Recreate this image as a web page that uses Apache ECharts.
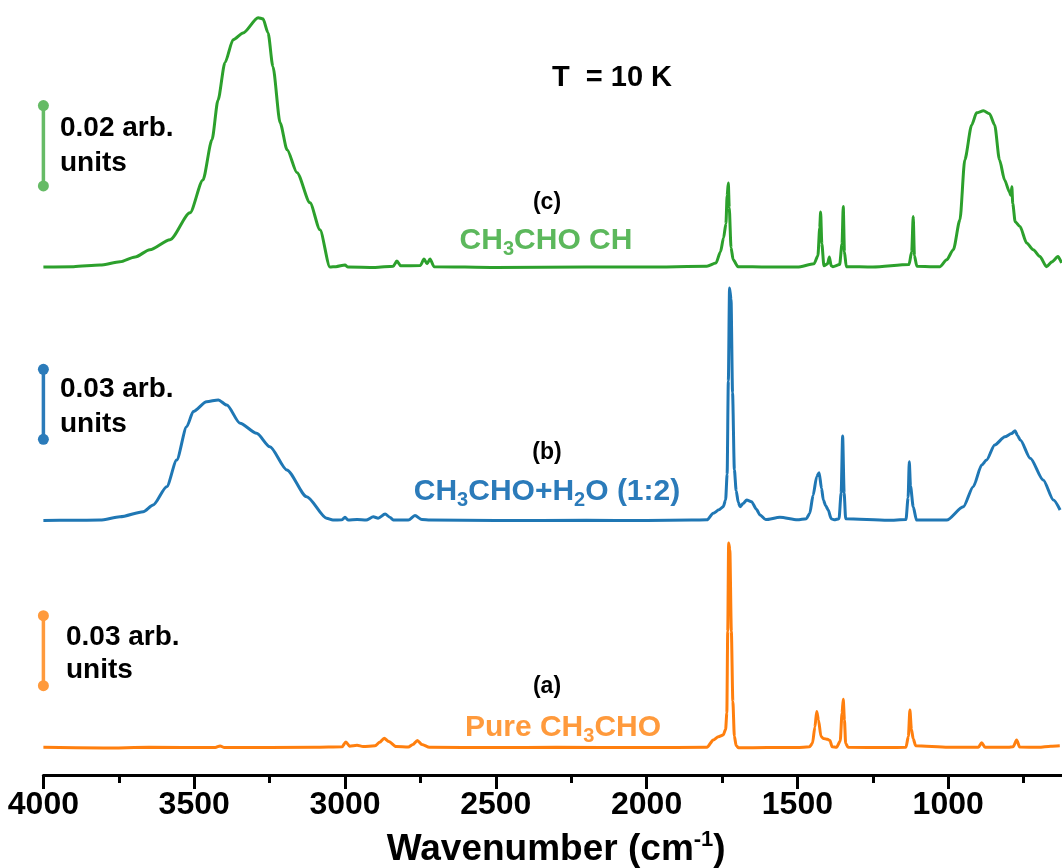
<!DOCTYPE html>
<html>
<head>
<meta charset="utf-8">
<style>
  html, body { margin: 0; padding: 0; background: #fff; }
  #chart-panel { width: 1062px; height: 868px; }
</style>
<script src="https://cdn.jsdelivr.net/npm/echarts@6/dist/echarts.min.js"></script>
</head>
<body>
<div id="chart-panel"></div>
<script>
// wavenumbers (cm-1) and absorbance, baseline = 0
var greenWn = [4000, 3900, 3812, 3746, 3696, 3647, 3580, 3514, 3471, 3441, 3421, 3398, 3371, 3338, 3288, 3272, 3255, 3239, 3215, 3192, 3159, 3116, 3083, 3050, 3030, 3000, 2990, 2900, 2840, 2828, 2815, 2750, 2738, 2728, 2718, 2705, 2500, 2200, 2000, 1800, 1770, 1755, 1745, 1737, 1733, 1729, 1726, 1720, 1713, 1697, 1600, 1500, 1445, 1432, 1426, 1423, 1419, 1412, 1400, 1394, 1388, 1382, 1360, 1352, 1348, 1344, 1338, 1250, 1130, 1121, 1116, 1112, 1104, 1050, 1027, 1005, 983, 961, 945, 922, 906, 883, 863, 846, 830, 813, 797, 792, 789, 786, 778, 762, 740, 718, 696, 674, 656, 636, 624];
var greenAbs = [0.0002, 0.0003, 0.0007, 0.0015, 0.0027, 0.0045, 0.0070, 0.0137, 0.0219, 0.0319, 0.0418, 0.0511, 0.0568, 0.0585, 0.0623, 0.0620, 0.0585, 0.0501, 0.0361, 0.0294, 0.0237, 0.0162, 0.0095, 0.0002, 0.0003, 0.0007, 0.0002, 0.0001, 0.0004, 0.0017, 0.0005, 0.0006, 0.0022, 0.0010, 0.0022, 0.0003, 0.0001, 0.0002, 0.0002, 0.0004, 0.0012, 0.0040, 0.0074, 0.0110, 0.0180, 0.0211, 0.0150, 0.0050, 0.0020, 0.0003, 0.0002, 0.0002, 0.0010, 0.0030, 0.0100, 0.0139, 0.0060, 0.0005, 0.0010, 0.0027, 0.0005, 0.0003, 0.0008, 0.0060, 0.0153, 0.0040, 0.0003, 0.0002, 0.0008, 0.0040, 0.0128, 0.0030, 0.0004, 0.0003, 0.0003, 0.0020, 0.0045, 0.0120, 0.0269, 0.0356, 0.0386, 0.0391, 0.0384, 0.0356, 0.0269, 0.0219, 0.0189, 0.0180, 0.0202, 0.0160, 0.0115, 0.0103, 0.0062, 0.0045, 0.0028, 0.0003, 0.0015, 0.0028, 0.0012];

var blueWn = [4000, 3900, 3812, 3746, 3669, 3636, 3591, 3558, 3525, 3503, 3459, 3420, 3392, 3348, 3293, 3249, 3193, 3127, 3061, 3040, 3010, 3000, 2990, 2960, 2930, 2906, 2890, 2867, 2850, 2840, 2790, 2768, 2745, 2718, 2500, 2200, 2000, 1850, 1800, 1779, 1760, 1746, 1738, 1733, 1729, 1725, 1720, 1715, 1709, 1703, 1696, 1690, 1680, 1668, 1652, 1636, 1624, 1605, 1558, 1500, 1470, 1459, 1448, 1436, 1428, 1420, 1414, 1406, 1398, 1388, 1378, 1362, 1355, 1350, 1345, 1340, 1200, 1140, 1133, 1129, 1125, 1116, 1105, 1005, 950, 917, 889, 873, 846, 812, 790, 778, 770, 761, 728, 685, 651, 629];
var blueAbs = [0.0002, 0.0003, 0.0004, 0.0018, 0.0040, 0.0069, 0.0147, 0.0261, 0.0404, 0.0469, 0.0511, 0.0519, 0.0497, 0.0419, 0.0376, 0.0318, 0.0219, 0.0104, 0.0012, 0.0004, 0.0005, 0.0016, 0.0004, 0.0006, 0.0004, 0.0018, 0.0012, 0.0030, 0.0015, 0.0004, 0.0004, 0.0023, 0.0006, 0.0004, 0.0002, 0.0003, 0.0002, 0.0004, 0.0005, 0.0033, 0.0048, 0.0061, 0.0090, 0.0200, 0.0600, 0.0999, 0.0950, 0.0550, 0.0220, 0.0130, 0.0080, 0.0061, 0.0075, 0.0090, 0.0083, 0.0050, 0.0026, 0.0006, 0.0016, 0.0005, 0.0010, 0.0033, 0.0110, 0.0190, 0.0207, 0.0140, 0.0090, 0.0065, 0.0047, 0.0010, 0.0005, 0.0010, 0.0120, 0.0364, 0.0120, 0.0010, 0.0003, 0.0006, 0.0100, 0.0254, 0.0150, 0.0061, 0.0004, 0.0004, 0.0061, 0.0147, 0.0240, 0.0261, 0.0326, 0.0361, 0.0375, 0.0387, 0.0365, 0.0347, 0.0269, 0.0176, 0.0090, 0.0047];

var orangeWn = [4000, 3800, 3650, 3430, 3414, 3400, 3100, 3010, 2997, 2985, 2960, 2940, 2900, 2885, 2870, 2855, 2830, 2790, 2775, 2760, 2745, 2720, 2500, 2300, 2000, 1800, 1779, 1762, 1746, 1738, 1734, 1731, 1728, 1724, 1719, 1714, 1709, 1703, 1695, 1600, 1500, 1460, 1450, 1442, 1436, 1430, 1422, 1414, 1400, 1392, 1385, 1370, 1358, 1352, 1348, 1344, 1340, 1332, 1200, 1140, 1132, 1127, 1122, 1116, 1108, 1000, 900, 889, 878, 800, 785, 773, 763, 700, 660, 630];
var orangeAbs = [0.0003, 0.0000, 0.0003, 0.0002, 0.0009, 0.0002, 0.0003, 0.0005, 0.0026, 0.0008, 0.0012, 0.0006, 0.0010, 0.0025, 0.0042, 0.0028, 0.0006, 0.0004, 0.0015, 0.0032, 0.0015, 0.0003, 0.0002, 0.0003, 0.0002, 0.0003, 0.0034, 0.0048, 0.0056, 0.0080, 0.0150, 0.0500, 0.0879, 0.0850, 0.0500, 0.0200, 0.0050, 0.0010, 0.0001, 0.0002, 0.0002, 0.0005, 0.0020, 0.0090, 0.0156, 0.0120, 0.0050, 0.0041, 0.0037, 0.0032, 0.0005, 0.0003, 0.0030, 0.0150, 0.0209, 0.0120, 0.0020, 0.0003, 0.0002, 0.0003, 0.0050, 0.0163, 0.0080, 0.0040, 0.0010, 0.0003, 0.0003, 0.0023, 0.0003, 0.0003, 0.0005, 0.0034, 0.0004, 0.0003, 0.0008, 0.0010];

// scale bars: position (cm-1) and [bottom, top] in absorbance
var barWn = 4000;
var greenBar = [0.0204, 0.0404];
var blueBar = [0.035, 0.065];
var orangeBar = [0.0267, 0.0567];
var greenBarText = ['0.02 arb.', 'units'];
var blueBarText = ['0.03 arb.', 'units'];
var orangeBarText = ['0.03 arb.', 'units'];

var xTicks = { min: 500, max: 4000, interval: 500 };

var myChart = echarts.init(document.getElementById('chart-panel'));

function pairs(xs, ys) {
    return xs.map(function (x, i) { return [x, ys[i]]; });
}

function spectrum(name, xs, ys, color, axis) {
    return {
        name: name,
        type: 'line',
        yAxisIndex: axis,
        data: pairs(xs, ys),
        showSymbol: false,
        smooth: 0.25,
        smoothMonotone: 'x',
        lineStyle: { color: color, width: 3 },
        z: 3
    };
}

function scaleBar(bar, color, axis) {
    return {
        type: 'line',
        yAxisIndex: axis,
        data: [[barWn, bar[0]], [barWn, bar[1]]],
        symbol: 'circle',
        symbolSize: 11,
        clip: false,
        itemStyle: { color: color },
        lineStyle: { color: color, width: 3.5 },
        z: 4
    };
}

var font = '"Liberation Sans", Arial, sans-serif';

function label(x, y, text, color, size, rich) {
    var style = {
        text: text,
        x: 0, y: 0,
        fill: color,
        font: 'bold ' + size + 'px ' + font,
        align: 'center',
        verticalAlign: 'middle'
    };
    if (rich) style.rich = rich;
    return { type: 'text', x: x, y: y, style: style, z: 10 };
}

function leftLabel(x, y, text, size) {
    return {
        type: 'text', x: x, y: y, z: 10,
        style: {
            text: text, fill: '#000',
            font: 'bold ' + size + 'px ' + font,
            align: 'left', verticalAlign: 'middle'
        }
    };
}

function chemRich(color) {
    return {
        t: { fontSize: 30, fontWeight: 'bold', fontFamily: font, color: color, lineHeight: 36 },
        s: { fontSize: 20, fontWeight: 'bold', fontFamily: font, color: color, lineHeight: 16, verticalAlign: 'bottom' }
    };
}

var cGreen = '#2ca02c', tGreen = '#5cb85c';
var cBlue = '#1f77b4', tBlue = '#2b7bba';
var cOrange = '#ff7f0e', tOrange = '#ff9a3c';

myChart.setOption({
    backgroundColor: '#ffffff',
    animation: false,
    grid: { left: 43.4, top: 0, width: 1055.6, height: 775, containLabel: false, outerBoundsMode: 'none' },
    xAxis: {
        type: 'value',
        inverse: true,
        min: xTicks.min,
        max: xTicks.max,
        interval: xTicks.interval,
        splitLine: { show: false },
        axisLine: { onZero: false, lineStyle: { color: '#000', width: 3 } },
        axisTick: { length: 14, lineStyle: { color: '#000', width: 3 } },
        minorTick: { show: true, splitNumber: 2, length: 8, lineStyle: { color: '#000', width: 3 } },
        axisLabel: {
            color: '#000', fontSize: 32, fontWeight: 'bold', fontFamily: font, margin: 14,
            formatter: function (v) { return String(v); }
        },
        name: '{n|Wavenumber (cm}{s|-1}{n|)}',
        nameLocation: 'middle',
        nameGap: 54,
        nameTextStyle: {
            padding: [0, 30, 0, 0],
            rich: {
                n: { fontSize: 37, fontWeight: 'bold', fontFamily: font, color: '#000', lineHeight: 42 },
                s: { fontSize: 22, fontWeight: 'bold', fontFamily: font, color: '#000', lineHeight: 24, verticalAlign: 'top' }
            }
        }
    },
    yAxis: [
        { type: 'value', show: false, min: -0.1263, max: 0.0667, splitLine: { show: false } },
        { type: 'value', show: false, min: -0.10887, max: 0.2233, splitLine: { show: false } },
        { type: 'value', show: false, min: -0.01157, max: 0.3206, splitLine: { show: false } }
    ],
    series: [
        spectrum('(c) CH3CHO CH', greenWn, greenAbs, cGreen, 0),
        spectrum('(b) CH3CHO+H2O (1:2)', blueWn, blueAbs, cBlue, 1),
        spectrum('(a) Pure CH3CHO', orangeWn, orangeAbs, cOrange, 2),
        scaleBar(greenBar, '#66bb66', 0),
        scaleBar(blueBar, tBlue, 1),
        scaleBar(orangeBar, tOrange, 2)
    ],
    graphic: [
        label(612, 78, 'T  = 10 K', '#000', 29),
        label(547, 203, '(c)', '#000', 23),
        label(546, 241, '{t|CH}{s|3}{t|CHO CH}', tGreen, 30, chemRich(tGreen)),
        label(547, 453, '(b)', '#000', 23),
        label(547, 492, '{t|CH}{s|3}{t|CHO+H}{s|2}{t|O (1:2)}', tBlue, 30, chemRich(tBlue)),
        label(547, 687, '(a)', '#000', 23),
        label(563, 728, '{t|Pure CH}{s|3}{t|CHO}', tOrange, 30, chemRich(tOrange)),
        leftLabel(60, 128, greenBarText[0], 28),
        leftLabel(60, 163, greenBarText[1], 28),
        leftLabel(60, 389, blueBarText[0], 28),
        leftLabel(60, 424, blueBarText[1], 28),
        leftLabel(66, 637, orangeBarText[0], 28),
        leftLabel(66, 670, orangeBarText[1], 28)
    ]
});
</script>
</body>
</html>
